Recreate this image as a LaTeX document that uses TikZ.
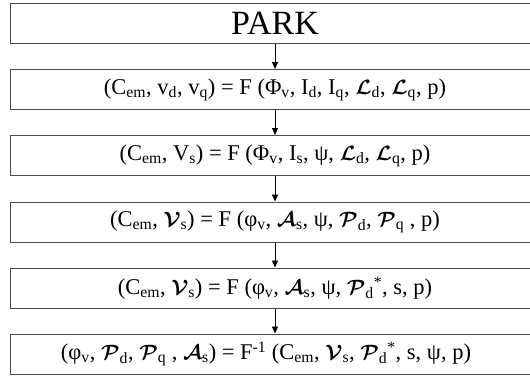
\documentclass[tikz,border=0pt]{standalone}
\usepackage{fontspec}
\setmainfont{Liberation Serif}
\usepackage{bm}
\usetikzlibrary{arrows.meta}
\definecolor{boxgray}{HTML}{4A4A4A}
\newcommand\bc[1]{\ensuremath{\bm{\mathcal{#1}}}}
\newcommand\sbs[1]{\textsubscript{#1}}
\newcommand\sps[1]{\textsuperscript{#1}}
\begin{document}
\begin{tikzpicture}[x=1pt,y=-1pt,
  box/.style={draw=boxgray, line width=1pt, minimum width=530pt, minimum height=40pt, inner sep=0pt},
  eqtext/.style={font=\fontsize{22.5}{26}\selectfont},
  titletext/.style={font=\fontsize{34}{40}\selectfont},
  arr/.style={draw=black, line width=0.8pt, -{Triangle[length=7pt,width=6pt]}}]
\useasboundingbox (0,0) rectangle (530,376);
\clip (0,0) rectangle (530,376);
\fill[white] (0,0) rectangle (530,376);
\node[box, titletext] (b1) at (275,23) {PARK};
\node[box, eqtext] (b2) at (275,89.5) {(C\sbs{em}, v\sbs{d}, v\sbs{q}) = F (Φ\sbs{v}, I\sbs{d}, I\sbs{q}, \bc{L}\sbs{d}, \bc{L}\sbs{q}, p)};
\node[box, eqtext] (b3) at (275,155.5) {(C\sbs{em}, V\sbs{s}) = F (Φ\sbs{v}, I\sbs{s}, ψ, \bc{L}\sbs{d}, \bc{L}\sbs{q}, p)};
\node[box, eqtext] (b4) at (275,222) {(C\sbs{em}, \bc{V}\sbs{s}) = F (φ\sbs{v}, \bc{A}\sbs{s}, ψ, \bc{P}\sbs{d}, \bc{P}\sbs{q} , p)};
\node[box, eqtext] (b5) at (275,288) {(C\sbs{em}, \bc{V}\sbs{s}) = F (φ\sbs{v}, \bc{A}\sbs{s}, ψ, \bc{P}\sbs{d}\sps{*}, s, p)};
\node[box, eqtext] (b6) at (275,354) {(φ\sbs{v}, \bc{P}\sbs{d}, \bc{P}\sbs{q} , \bc{A}\sbs{s}) = F\sps{-1} (C\sbs{em}, \bc{V}\sbs{s}, \bc{P}\sbs{d}\sps{*}, s, ψ, p)\hspace*{18pt}};
\draw[arr] (b1) -- (b2);
\draw[arr] (b2) -- (b3);
\draw[arr] (b3) -- (b4);
\draw[arr] (b4) -- (b5);
\draw[arr] (b5) -- (b6);
\end{tikzpicture}
\end{document}
